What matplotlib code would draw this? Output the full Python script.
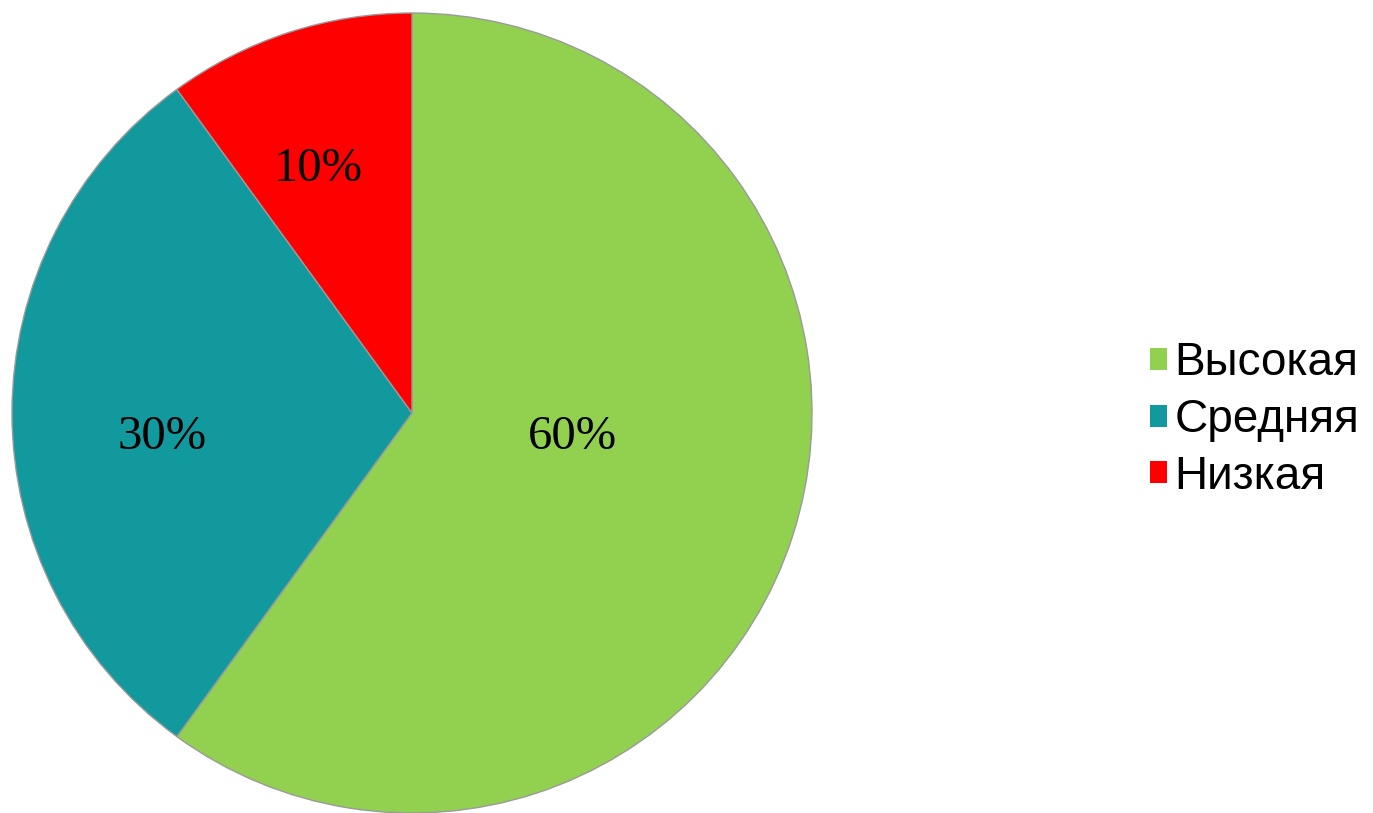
import matplotlib
matplotlib.use("Agg")
import matplotlib.pyplot as plt
from matplotlib.patches import Patch

categories = ["Высокая", "Средняя", "Низкая"]
values = [60, 30, 10]
labels_pct = ["60%", "30%", "10%"]
colors = ["#92D050", "#11999E", "#FF0000"]
label_pos = [(0.40, -0.06), (-0.625, -0.06), (-0.235, 0.61)]

W, H = 1373, 813
fig = plt.figure(figsize=(W / 100, H / 100), dpi=100)
cx, cy, r = 412, 413, 400
ax = fig.add_axes([(cx - r) / W, (H - cy - r) / H, 2 * r / W, 2 * r / H])
wedges, _ = ax.pie(values, colors=colors, startangle=90, counterclock=False,
                   radius=1, wedgeprops=dict(edgecolor="#9a9a9a", linewidth=1.0))
for txt, pos in zip(labels_pct, label_pos):
    ax.text(pos[0], pos[1], txt, ha="center", va="center", fontsize=35,
            family="Liberation Serif", color="black")
ax.set_xlim(-1, 1)
ax.set_ylim(-1, 1)
ax.set_aspect("equal")
ax.axis("off")

handles = [Patch(facecolor=c, edgecolor="none") for c in colors]
fig.legend(handles, categories, loc="center left", bbox_to_anchor=(1150 / W, 1 - 420 / H),
           frameon=False, prop={"family": "Liberation Sans", "size": 33},
           handlelength=0.36, handleheight=0.36, handletextpad=0.17,
           labelspacing=0.28, borderpad=0, borderaxespad=0)
fig.savefig("out.png", dpi=100)
